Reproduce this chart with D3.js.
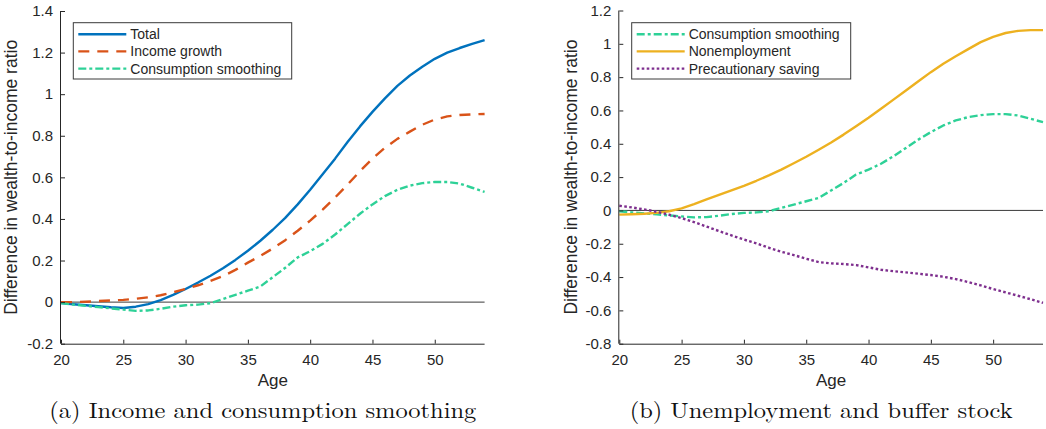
<!DOCTYPE html>
<html>
<head>
<meta charset="utf-8">
<script src="https://cdn.jsdelivr.net/npm/d3@7"></script>
<style>
  html, body { margin: 0; padding: 0; background: #fff; }
  svg { display: block; }
</style>
</head>
<body>
<svg id="fig" width="1046" height="429"></svg>
<script>
// Age grid shared by all series
const age = [20,21,22,23,24,25,26,27,28,29,30,31,32,33,34,35,36,37,38,39,40,41,42,43,44,45,46,47,48,49,50,51,52,53,54];

// Panel (a) series
const total = [-0.005,-0.010,-0.015,-0.020,-0.025,-0.028,-0.022,-0.010,0.010,0.035,0.063,0.094,0.127,0.163,0.203,0.247,0.295,0.348,0.405,0.470,0.540,0.615,0.690,0.770,0.845,0.915,0.980,1.040,1.090,1.132,1.170,1.200,1.222,1.242,1.260];
const incomeGrowth = [0.000,0.000,0.002,0.005,0.008,0.011,0.016,0.023,0.033,0.047,0.063,0.081,0.102,0.125,0.155,0.190,0.222,0.258,0.298,0.343,0.392,0.445,0.503,0.565,0.630,0.690,0.742,0.785,0.820,0.853,0.878,0.893,0.900,0.903,0.905];
const consumptionSmoothing = [-0.005,-0.012,-0.018,-0.024,-0.030,-0.036,-0.042,-0.040,-0.032,-0.022,-0.015,-0.012,-0.005,0.015,0.035,0.055,0.075,0.120,0.165,0.215,0.245,0.280,0.325,0.375,0.425,0.470,0.510,0.540,0.560,0.572,0.578,0.578,0.570,0.550,0.530];

// Panel (b) series
const nonemployment = [-0.025,-0.023,-0.020,-0.015,-0.005,0.012,0.038,0.066,0.094,0.121,0.148,0.178,0.210,0.245,0.283,0.322,0.364,0.408,0.455,0.505,0.556,0.610,0.665,0.720,0.775,0.830,0.880,0.925,0.968,1.010,1.042,1.065,1.078,1.082,1.082];
const precautionarySaving = [0.028,0.018,0.006,-0.008,-0.026,-0.046,-0.070,-0.097,-0.124,-0.150,-0.175,-0.198,-0.224,-0.248,-0.268,-0.290,-0.310,-0.318,-0.322,-0.328,-0.342,-0.356,-0.365,-0.372,-0.380,-0.388,-0.398,-0.412,-0.430,-0.450,-0.472,-0.492,-0.512,-0.533,-0.555];

// Tick values
const xTicks = [20,25,30,35,40,45,50];
const yTicksA = [-0.2,0,0.2,0.4,0.6,0.8,1,1.2,1.4];
const yTicksB = [-0.8,-0.6,-0.4,-0.2,0,0.2,0.4,0.6,0.8,1,1.2];

// Labels
const xLabel = "Age";
const yLabel = "Difference in wealth-to-income ratio";
const captionA = "(a) Income and consumption smoothing";
const captionB = "(b) Unemployment and buffer stock";

// Line styles
const styles = {
  total:   { color: "#0072BD", dash: null },
  income:  { color: "#D95319", dash: "11,8" },
  cons:    { color: "#2ED197", dash: "8,3,3,3" },
  nonemp:  { color: "#EDB120", dash: null },
  precaut: { color: "#7E2F8E", dash: "2.6,2.4" }
};

const panels = [
  {
    left: 61, right: 484.6, top: 11, bottom: 343.7,
    yDomain: [-0.2, 1.4], yTicks: yTicksA,
    series: [
      { name: "Total", values: total, style: styles.total },
      { name: "Income growth", values: incomeGrowth, style: styles.income },
      { name: "Consumption smoothing", values: consumptionSmoothing, style: styles.cons }
    ],
    legend: { x: 73.3, y: 22.7, w: 218.4, h: 56.3 },
    ylabelX: 11, caption: captionA, captionW: 427
  },
  {
    left: 619.3, right: 1043, top: 10.5, bottom: 343.7,
    yDomain: [-0.8, 1.2], yTicks: yTicksB,
    series: [
      { name: "Consumption smoothing", values: consumptionSmoothing, style: styles.cons },
      { name: "Nonemployment", values: nonemployment, style: styles.nonemp },
      { name: "Precautionary saving", values: precautionarySaving, style: styles.precaut }
    ],
    legend: { x: 631.7, y: 22.7, w: 219, h: 56.3 },
    ylabelX: 571, caption: captionB, captionW: 383
  }
];

const svg = d3.select("#fig");
const sans = "'Liberation Sans', Arial, Helvetica, sans-serif";
const serif = "'Latin Modern Roman', 'CMU Serif', 'Liberation Serif', 'Times New Roman', serif";
const ink = "#262626";

panels.forEach(p => {
  const x = d3.scaleLinear().domain([20, 54]).range([p.left, p.right]);
  const y = d3.scaleLinear().domain(p.yDomain).range([p.bottom, p.top]);
  const g = svg.append("g");

  // zero reference line
  g.append("line")
    .attr("x1", x(20)).attr("x2", x(54))
    .attr("y1", y(0)).attr("y2", y(0))
    .attr("stroke", "#3a3a3a").attr("stroke-width", 1);

  // series
  const line = d3.line().x((d, i) => x(age[i])).y(d => y(d)).curve(d3.curveLinear);
  p.series.forEach(s => {
    g.append("path")
      .datum(s.values)
      .attr("d", line)
      .attr("fill", "none")
      .attr("stroke", s.style.color)
      .attr("stroke-width", 2.4)
      .attr("stroke-linejoin", "round")
      .attr("stroke-dasharray", s.style.dash);
  });

  // axes (ticks pointing inward)
  const xAxis = d3.axisBottom(x).tickValues(xTicks).tickSize(-4).tickSizeOuter(0).tickPadding(11)
    .tickFormat(d => String(d));
  const yAxis = d3.axisLeft(y).tickValues(p.yTicks).tickSize(-4).tickSizeOuter(0).tickPadding(8)
    .tickFormat(d => String(+d.toFixed(1)));

  const gx = g.append("g").attr("transform", `translate(0,${p.bottom})`).call(xAxis);
  const gy = g.append("g").attr("transform", `translate(${p.left},0)`).call(yAxis);
  [gx, gy].forEach(a => {
    a.select(".domain").attr("stroke", ink).attr("stroke-width", 1);
    a.selectAll(".tick line").attr("stroke", ink).attr("stroke-width", 1);
    a.selectAll(".tick text").attr("fill", ink).style("font-family", sans).style("font-size", "15px");
  });
  gx.select(".domain").attr("d", `M${p.left},0.5H${p.right}`);
  gy.select(".domain").attr("d", `M-0.5,${p.bottom}V${p.top}`);

  // axis labels
  g.append("text")
    .attr("x", (p.left + p.right) / 2).attr("y", 386)
    .attr("text-anchor", "middle")
    .style("font-family", sans).style("font-size", "17px").attr("fill", ink)
    .text(xLabel);
  g.append("text")
    .attr("transform", `translate(${p.ylabelX},${(p.top + p.bottom) / 2}) rotate(-90)`)
    .attr("text-anchor", "middle").attr("dy", "0.35em")
    .style("font-family", sans).style("font-size", "17.5px").attr("fill", ink)
    .text(yLabel);

  // legend
  const L = p.legend;
  const lg = g.append("g");
  lg.append("rect")
    .attr("x", L.x).attr("y", L.y).attr("width", L.w).attr("height", L.h)
    .attr("fill", "#fff").attr("stroke", "#3a3a3a").attr("stroke-width", 1);
  p.series.forEach((s, i) => {
    const cy = L.y + 11.5 + i * 17.2;
    lg.append("line")
      .attr("x1", L.x + 5).attr("x2", L.x + 53)
      .attr("y1", cy).attr("y2", cy)
      .attr("stroke", s.style.color).attr("stroke-width", 2.4)
      .attr("stroke-dasharray", s.style.dash);
    lg.append("text")
      .attr("x", L.x + 57).attr("y", cy).attr("dy", "0.36em")
      .style("font-family", sans).style("font-size", "14px").attr("fill", ink)
      .text(s.name);
  });

  // caption
  g.append("text")
    .attr("x", (p.left + p.right) / 2 - 10).attr("y", 417.5)
    .attr("text-anchor", "middle")
    .attr("textLength", p.captionW).attr("lengthAdjust", "spacingAndGlyphs")
    .style("font-family", serif).style("font-size", "22px").attr("fill", "#111")
    .text(p.caption);
});
</script>
</body>
</html>
